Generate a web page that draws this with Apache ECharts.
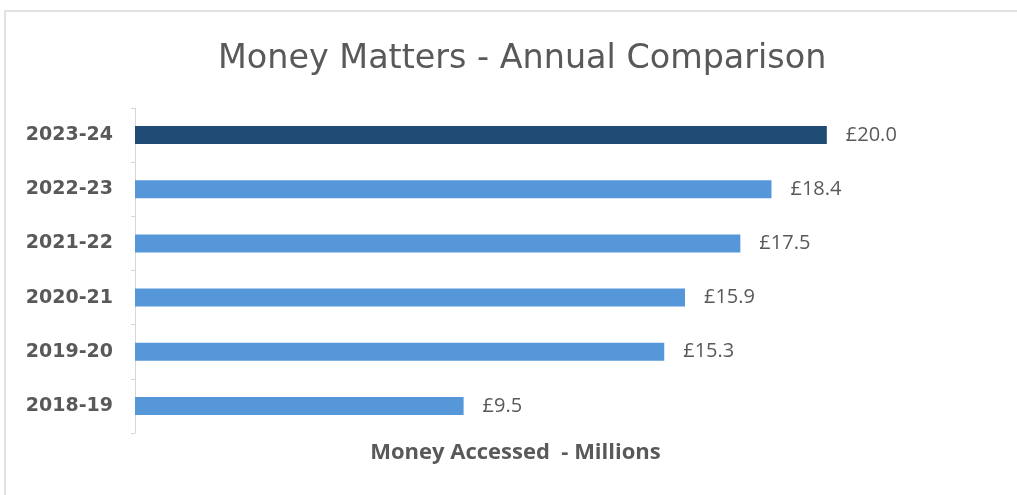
<!DOCTYPE html>
<html>
<head>
<meta charset="utf-8">
<script src="https://cdn.jsdelivr.net/npm/echarts@6/dist/echarts.min.js"></script>
<style>
  html, body { margin: 0; padding: 0; background: #ffffff; }
  #chart { width: 1017px; height: 495px; }
</style>
</head>
<body>
<div id="chart"></div>
<script>
// Financial years, bottom to top on the category axis
const years = ['2018-19', '2019-20', '2020-21', '2021-22', '2022-23', '2023-24'];
// Money accessed per year, in £ millions
const amounts = [9.5, 15.3, 15.9, 17.5, 18.4, 20.0];
// The most recent year is highlighted
const highlightYear = '2023-24';

const chartTitle = 'Money Matters - Annual Comparison';
const valueAxisName = 'Money Accessed  - Millions';

const LIGHT = '#5597d9';
const DARK = '#1f4b74';
const TEXT = '#595959';

const chart = echarts.init(document.getElementById('chart'));

chart.setOption({
  backgroundColor: '#ffffff',
  animation: false,
  graphic: [{
    type: 'rect',
    shape: { x: 5, y: 11, width: 1030, height: 500 },
    style: { fill: 'none', stroke: '#e2e2e2', lineWidth: 2 },
    z: -1
  }],
  title: {
    text: chartTitle,
    left: 213,
    top: 38,
    textStyle: {
      fontFamily: '"DejaVu Sans", sans-serif',
      fontSize: 33.4,
      fontWeight: 'normal',
      color: TEXT
    }
  },
  grid: {
    left: 135,
    top: 108,
    width: 761,
    height: 325,
    containLabel: false
  },
  xAxis: {
    type: 'value',
    min: 0,
    max: 22,
    show: true,
    axisLine: { show: false },
    axisTick: { show: false },
    axisLabel: { show: false },
    splitLine: { show: false },
    name: valueAxisName,
    nameLocation: 'middle',
    nameGap: 9,
    nameTextStyle: {
      fontFamily: '"Open Sans", sans-serif',
      fontSize: 22,
      fontWeight: 'bold',
      color: TEXT,
      verticalAlign: 'top'
    }
  },
  yAxis: {
    type: 'category',
    data: years,
    axisLine: { show: true, lineStyle: { color: '#d6d6d6', width: 1 } },
    axisTick: { show: true, length: 4, lineStyle: { color: '#d6d6d6' } },
    axisLabel: {
      margin: 22,
      fontFamily: '"DejaVu Sans", sans-serif',
      fontSize: 19,
      fontWeight: 'bold',
      color: TEXT
    },
    splitLine: { show: false }
  },
  series: [{
    type: 'bar',
    data: amounts.map((v, i) => ({
      value: v,
      itemStyle: { color: years[i] === highlightYear ? DARK : LIGHT }
    })),
    barWidth: 18,
    label: {
      show: true,
      position: 'right',
      distance: 19,
      formatter: p => '£' + p.value.toFixed(1),
      fontFamily: '"Open Sans", sans-serif',
      fontSize: 20,
      color: TEXT
    }
  }]
});
</script>
</body>
</html>
